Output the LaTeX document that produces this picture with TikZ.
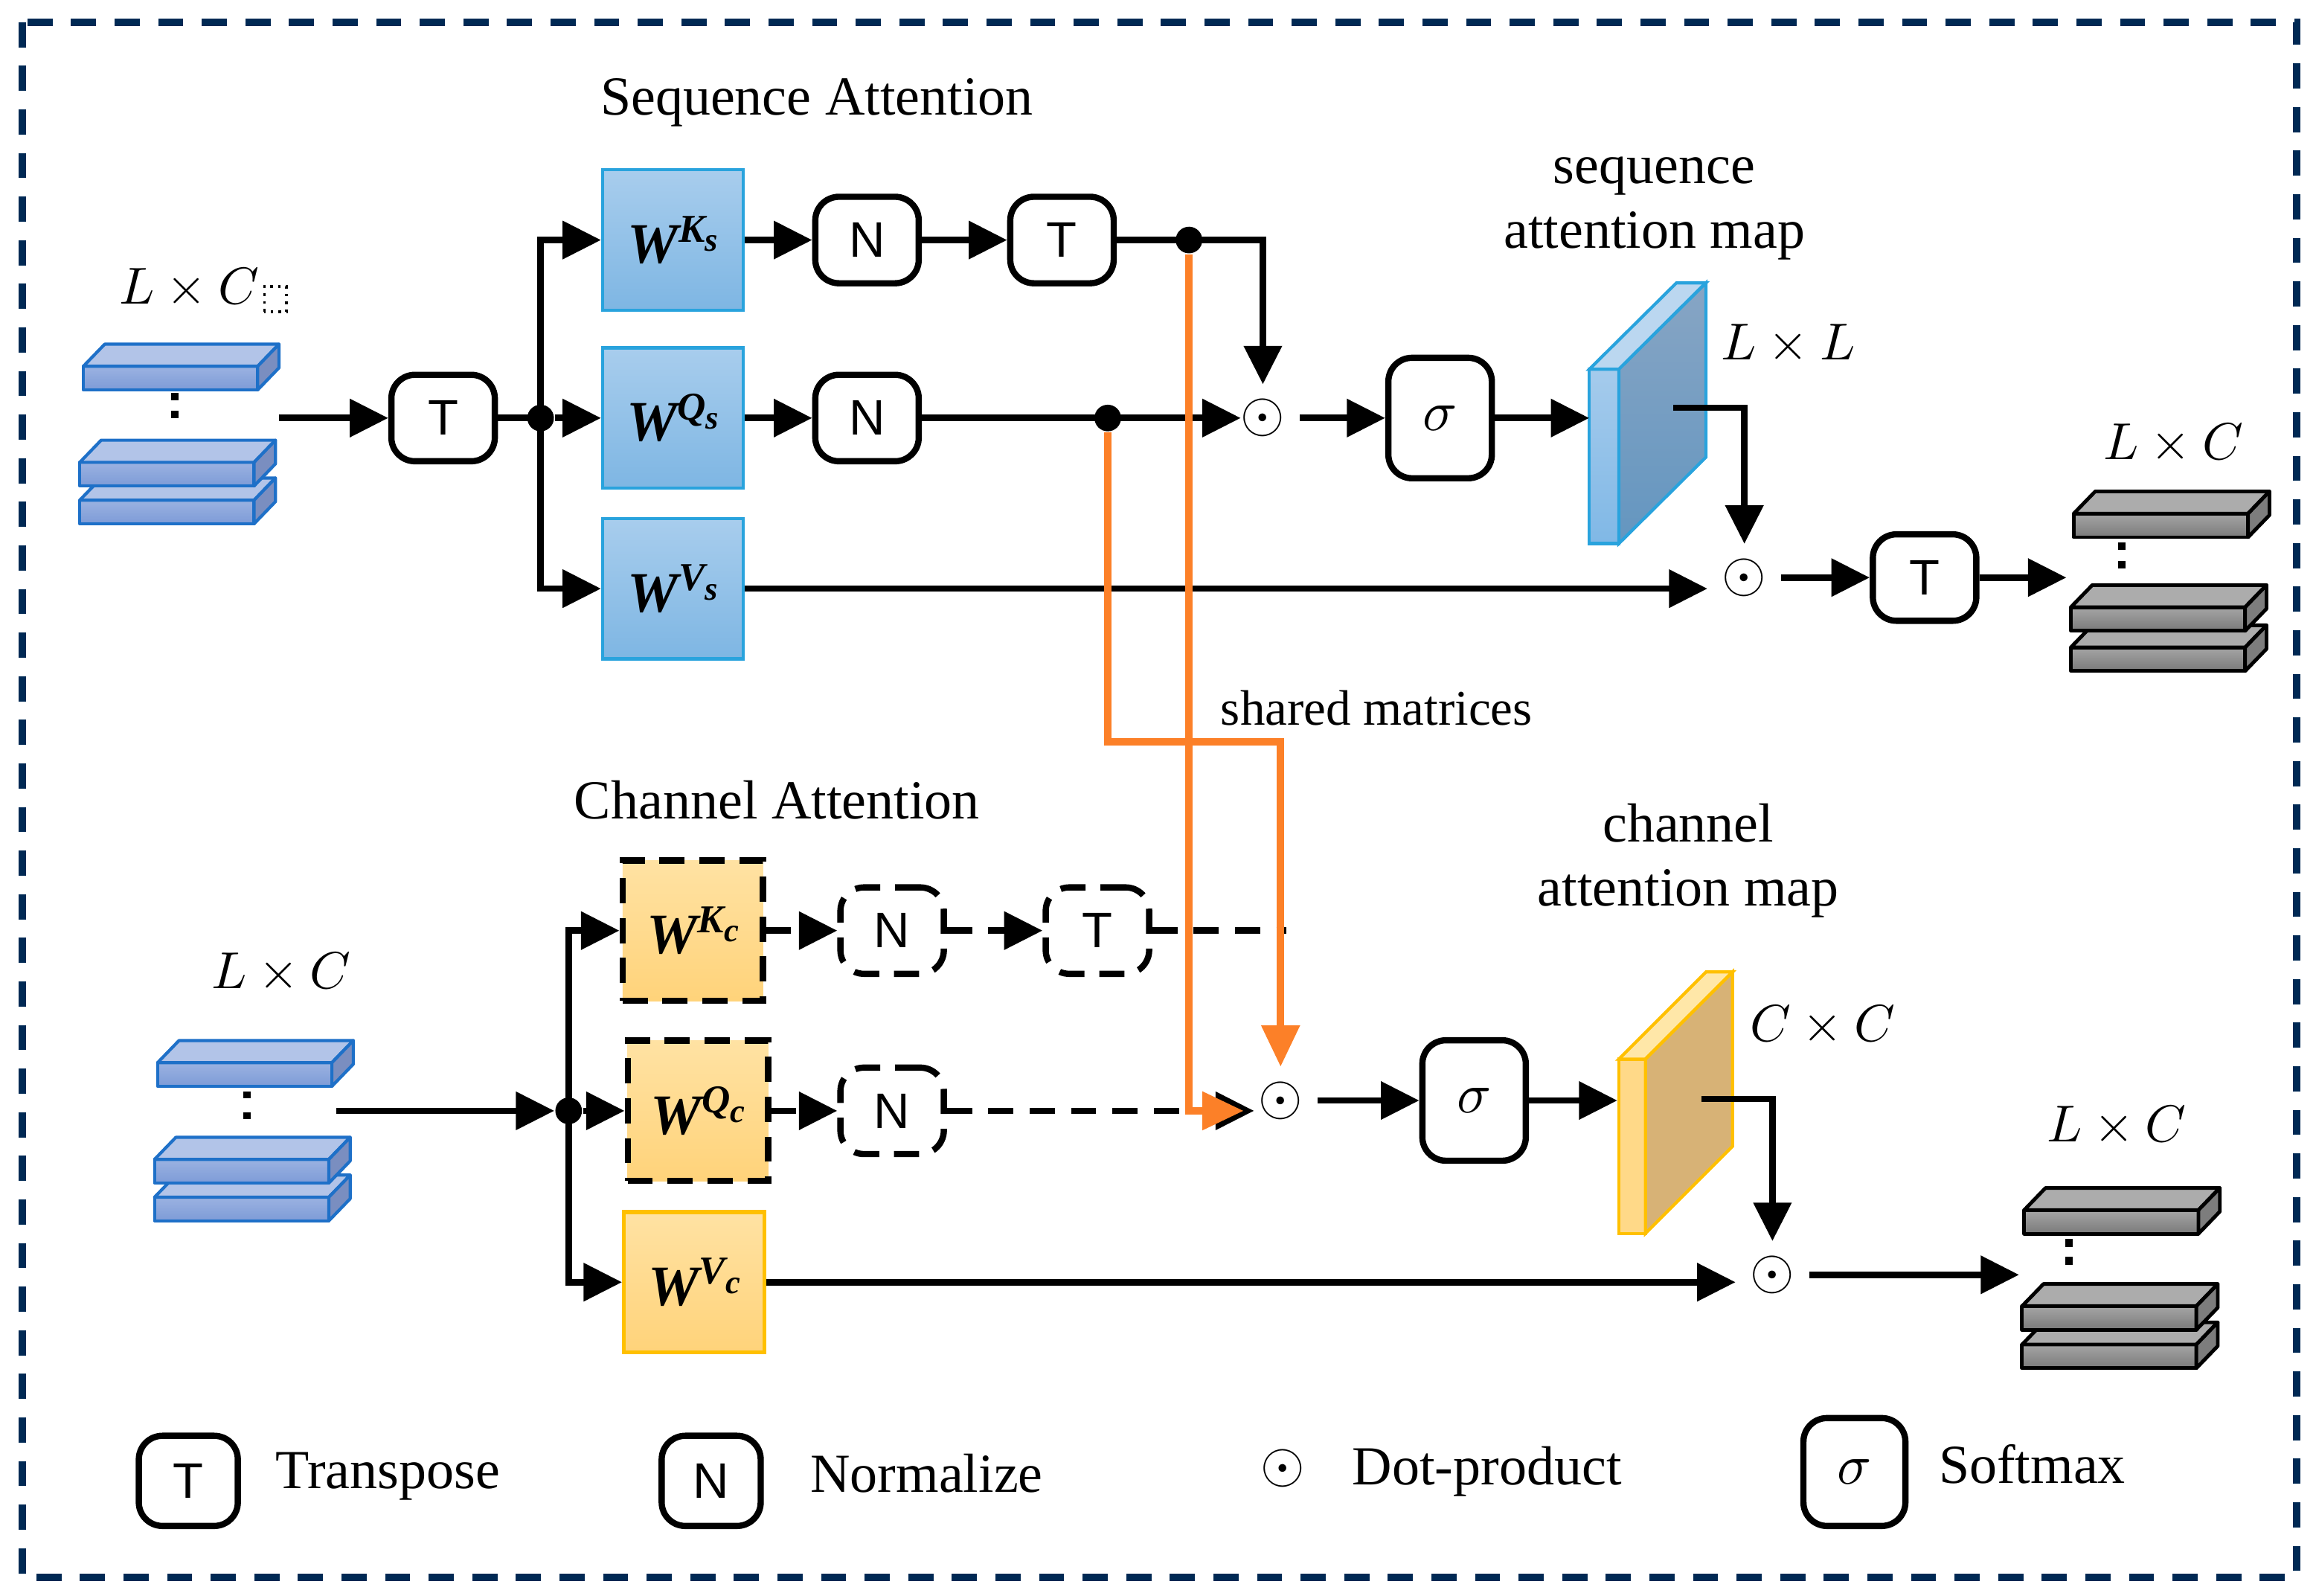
\documentclass[tikz,border=0pt]{standalone}
\usepackage{fontspec}
\setmainfont{Liberation Serif}
\setsansfont{Liberation Sans}
\usepackage{amsmath}
\usepackage{tikz}
\usetikzlibrary{arrows.meta}

\definecolor{frameblue}{RGB}{0,41,84}
\definecolor{wsline}{RGB}{41,163,221}
\definecolor{wstop}{RGB}{168,205,237}
\definecolor{wsbot}{RGB}{126,182,227}
\definecolor{wctop}{RGB}{255,226,163}
\definecolor{wcbot}{RGB}{255,211,122}
\definecolor{wcline}{RGB}{255,192,0}
\definecolor{shareorange}{RGB}{252,128,40}
\definecolor{bline}{RGB}{30,112,200}
\definecolor{bfront1}{RGB}{155,178,225}
\definecolor{bfront2}{RGB}{125,155,215}
\definecolor{btop}{RGB}{178,196,232}
\definecolor{bside}{RGB}{122,142,192}
\definecolor{gfront1}{RGB}{165,165,165}
\definecolor{gfront2}{RGB}{122,122,122}
\definecolor{gtop}{RGB}{172,172,172}
\definecolor{gside}{RGB}{125,125,125}
\definecolor{smfront1}{RGB}{165,203,236}
\definecolor{smfront2}{RGB}{128,184,230}
\definecolor{smtop}{RGB}{187,215,240}
\definecolor{smside1}{RGB}{135,165,196}
\definecolor{smside2}{RGB}{100,150,192}
\definecolor{cmfront}{RGB}{255,217,136}
\definecolor{cmtop}{RGB}{255,231,168}
\definecolor{cmside}{RGB}{215,178,118}

\newcommand\lblfont{\fontsize{10.6}{12.5}\selectfont}
\newcommand\dimfont{\fontsize{10}{12}\selectfont}
\newcommand\opfont{\sffamily\fontsize{9.6}{11}\selectfont}
% weight label W^{#1_#2} in bold italic
\newcommand\wlab[2]{\fontsize{11}{13}\selectfont\bfseries\itshape W\raisebox{0.8ex}{\fontsize{7.6}{8}\selectfont #1\raisebox{-0.5ex}{\fontsize{6.4}{7}\selectfont #2}}}

% one slab of a stack: #1,#2 front bottom-left corner, #3 colour set
\newcommand\slab[3]{%
  \draw[#3 front] (#1,#2) rectangle ++(118,-16);
  \draw[#3 top] (#1,#2-16) -- ++(14.5,-15) -- ++(118,0) -- ++(-14.5,15) -- cycle;
  \draw[#3 side] (#1+118,#2) -- ++(0,-16) -- ++(14.5,-15) -- ++(0,16) -- cycle;
}

\tikzset{
  blue front/.style={draw=bline, line width=0.6pt, line join=round, top color=bfront1, bottom color=bfront2},
  blue top/.style={draw=bline, line width=0.6pt, line join=round, fill=btop},
  blue side/.style={draw=bline, line width=0.6pt, line join=round, fill=bside},
  gray front/.style={draw=black, line width=0.7pt, line join=round, top color=gfront1, bottom color=gfront2},
  gray top/.style={draw=black, line width=0.7pt, line join=round, fill=gtop},
  gray side/.style={draw=black, line width=0.7pt, line join=round, fill=gside},
  smap front/.style={draw=wsline, line width=0.6pt, top color=smfront1, bottom color=smfront2},
  smap top/.style={draw=wsline, line width=0.6pt, fill=smtop},
  smap side/.style={draw=wsline, line width=0.6pt, top color=smside1, bottom color=smside2},
  cmap front/.style={draw=wcline, line width=0.6pt, fill=cmfront},
  cmap top/.style={draw=wcline, line width=0.6pt, fill=cmtop},
  cmap side/.style={draw=wcline, line width=0.6pt, fill=cmside}
}

\begin{document}
\begin{tikzpicture}[x=0.01cm, y=-0.01cm,
  op/.style={draw, line width=1.2pt, rounded corners=0.16cm, minimum width=0.70cm,
    minimum height=0.585cm, inner sep=0pt, font=\opfont},
  opdash/.style={op, dash pattern=on 0.17cm off 0.1cm},
  sig/.style={op, minimum height=0.815cm, font=\fontsize{11}{13}\selectfont},
  wbox/.style={draw=wsline, line width=0.6pt, top color=wstop, bottom color=wsbot,
    minimum width=0.95cm, minimum height=0.95cm, inner sep=0pt},
  wcbox/.style={wbox, top color=wctop, bottom color=wcbot, draw=black, line width=1.2pt,
    dash pattern=on 0.17cm off 0.1cm},
  wcvbox/.style={wbox, top color=wctop, bottom color=wcbot, draw=wcline, line width=0.75pt},
  arr/.style={line width=1.25pt, -{Triangle[length=0.26cm,width=0.25cm]}},
  darr/.style={arr, dash pattern=on 0.17cm off 0.11cm},
  oarr/.style={arr, draw=shareorange, line width=1.45pt, -{Triangle[length=0.28cm,width=0.25cm]}},
  jdot/.style={circle, fill, inner sep=0pt, minimum size=0.18cm},
  prod/.style={inner sep=0pt, outer sep=0.1cm, font=\fontsize{11}{13}\selectfont},
  lbl/.style={font=\lblfont, inner sep=0pt, anchor=base},
  dim/.style={lbl, font=\dimfont},
  frame/.style={draw=frameblue, line width=1.4pt, dash pattern=on 0.17cm off 0.125cm}
]
\useasboundingbox[fill=white] (0,0) rectangle (1568,1080);
\draw[frame] (15,15) rectangle (1555,1068);

% sequence attention
\node[lbl] (seqTitle) at (553,78) {Sequence Attention};
\slab{54}{354.6}{blue}
\slab{54}{329}{blue}
\slab{56.4}{264}{blue}
\fill (116,266) rectangle ++(5,5);
\fill (116,278) rectangle ++(5,5);
\node[dim] (seqInDim) at (128,206) {$L\times C$};
\draw[densely dotted, line width=0.5pt] ([shift={(3,5)}]seqInDim.base east) rectangle ++(15,-17);
\coordinate (seqIn) at (189,283);
\node[op] (tIn) at (300,283) {T};
\node[jdot] (jS) at (366,283) {};
\node[wbox] (wKs) at (455.5,162.5) {\wlab{K}{s}};
\node[wbox] (wQs) at (455.5,283) {\wlab{Q}{s}};
\node[wbox] (wVs) at (455.5,398.5) {\wlab{V}{s}};
\node[op] (nKs) at (587,162.5) {N};
\node[op] (tKs) at (719,162.5) {T};
\node[jdot] (dKs) at (805,162.5) {};
\node[op] (nQs) at (587,283) {N};
\node[jdot] (dQs) at (750,283) {};
\node[prod] (prodS) at (855,283) {$\odot$};
\node[sig] (sigS) at (975,283) {$\sigma$};

\draw[smap front] (1076,368) rectangle (1096,250);
\draw[smap top] (1076,250) -- (1135,191.5) -- (1155,191.5) -- (1096,250) -- cycle;
\draw[smap side] (1096,250) -- (1155,191.5) -- (1155,309.5) -- (1096,368) -- cycle;
\coordinate (mapSin) at (1076,283);
\coordinate (mapSout) at (1133,276);
\node[lbl] (seqMap1) at (1120,124) {sequence};
\node[lbl] (seqMap2) at (1120,168) {attention map};
\node[dim] (seqMapDim) at (1210.6,243.3) {$L\times L$};

\node[prod] (prodSV) at (1181,391) {$\odot$};
\node[op] (tOut) at (1303,391) {T};
\coordinate (seqOut) at (1399,391);
\slab{1402}{454.3}{gray}
\slab{1402}{427.1}{gray}
\slab{1404}{363.7}{gray}
\fill (1434,367) rectangle ++(5,5);
\fill (1434,380) rectangle ++(5,5);
\node[dim] (seqOutDim) at (1471.5,310.8) {$L\times C$};

\draw[arr] (seqIn) -- (tIn);
\draw[line width=1.25pt] (tIn) -- (jS.center);
\draw[arr] (jS.center) |- (wKs);
\draw[arr] (jS) -- (wQs);
\draw[arr] (jS.center) |- (wVs);
\draw[arr] (wKs) -- (nKs);
\draw[arr] (nKs) -- (tKs);
\draw[arr] (tKs) -- (dKs.center) -| (prodS);
\draw[arr] (wQs) -- (nQs);
\draw[arr, shorten >=-0.1cm] (nQs) -- (dQs.center) -- (prodS);
\draw[arr] (prodS) -- (sigS);
\draw[arr] (sigS) -- (mapSin);
\draw[arr] (mapSout) -| (prodSV);
\draw[arr] (wVs.east) -- (wVs.east -| prodSV.west);
\draw[arr] (prodSV) -- (tOut);
\draw[arr] (tOut) -- (seqOut);

% channel attention
\node[lbl] (chTitle) at (526,554.5) {Channel Attention};
\slab{104.6}{826.5}{blue}
\slab{104.6}{800.9}{blue}
\slab{106.7}{735.4}{blue}
\fill (164.7,739) rectangle ++(5,4.5);
\fill (164.7,753) rectangle ++(5,4.5);
\node[dim] (chInDim) at (190.4,669) {$L\times C$};
\coordinate (chIn) at (227.5,752);
\node[jdot] (jC) at (385,752) {};
\node[wcbox] (wKc) at (469,630) {\wlab{K}{c}};
\node[wcbox] (wQc) at (472.5,752) {\wlab{Q}{c}};
\node[wcvbox] (wVc) at (470,868) {\wlab{V}{c}};
\node[opdash] (nKc) at (604,630) {N};
\node[opdash] (tKc) at (743,630) {T};
\node[opdash] (nQc) at (604,752) {N};
\node[prod] (prodC) at (867,745) {$\odot$};
\node[sig] (sigC) at (998,745) {$\sigma$};

\draw[cmap front] (1096,835) rectangle (1114,717);
\draw[cmap top] (1096,717) -- (1155,658) -- (1173,658) -- (1114,717) -- cycle;
\draw[cmap side] (1114,717) -- (1173,658) -- (1173,776) -- (1114,835) -- cycle;
\coordinate (mapCin) at (1095,745);
\coordinate (mapCout) at (1152,744);
\node[lbl] (chMap1) at (1143,570) {channel};
\node[lbl] (chMap2) at (1143,613.5) {attention map};
\node[dim] (chMapDim) at (1234,705) {$C\times C$};

\node[prod] (prodCV) at (1200,863) {$\odot$};
\coordinate (chOut) at (1367,863);
\slab{1369}{926.2}{gray}
\slab{1369}{900.2}{gray}
\slab{1370.4}{835.2}{gray}
\fill (1398.3,838.6) rectangle ++(5,5.5);
\fill (1398.3,851) rectangle ++(5,5.5);
\node[dim] (chOutDim) at (1433,773) {$L\times C$};

\draw[arr] (chIn) -- (jC);
\draw[arr] (jC.center) |- (wKc);
\draw[arr] (jC) -- (wQc);
\draw[arr] (jC.center) |- (wVc);
\draw[darr] (wKc) -- (nKc);
\draw[darr] (nKc) -- (tKc);
\draw[line width=1.25pt, dash pattern=on 0.17cm off 0.11cm] (tKc.east) -- ([xshift=0.04cm]tKc.east -| prodC.north);
\draw[darr] (wQc) -- (nQc);
\draw[darr, shorten >=-0.07cm] (nQc.east) -- (nQc.east -| prodC.west);
\draw[arr] (prodC) -- (sigC);
\draw[arr] (sigC) -- (mapCin);
\draw[arr] (mapCout) -| (prodCV);
\draw[arr] (wVc.east) -- (wVc.east -| prodCV.west);
\draw[arr] (prodCV) -- (chOut);

% shared matrices
\coordinate (shared) at (750,502);
\draw[oarr] (dQs.south) -- (shared) -| (prodC);
\draw[oarr] (dKs.south) -- (dKs |- nQc) -- (nQc -| prodC.west);
\node[lbl, font=\fontsize{9.6}{11}\selectfont] (sharedTxt) at (932,491) {shared matrices};

% legend
\node[op, minimum width=0.67cm, minimum height=0.61cm] (legT) at (127.5,1002.5) {T};
\node[lbl, anchor=base west] (legTtxt) at (186,1007.6) {Transpose};
\node[op, minimum width=0.67cm, minimum height=0.61cm] (legN) at (481.5,1002.5) {N};
\node[lbl, anchor=base west] (legNtxt) at (548,1010) {Normalize};
\node[prod] (legP) at (868.5,994) {$\odot$};
\node[lbl, anchor=base west] (legPtxt) at (915,1005) {Dot-product};
\node[sig, minimum width=0.69cm, minimum height=0.73cm] (legS) at (1255.5,996.5) {$\sigma$};
\node[lbl, anchor=base west] (legStxt) at (1312,1004.2) {Softmax};
\end{tikzpicture}
\end{document}
